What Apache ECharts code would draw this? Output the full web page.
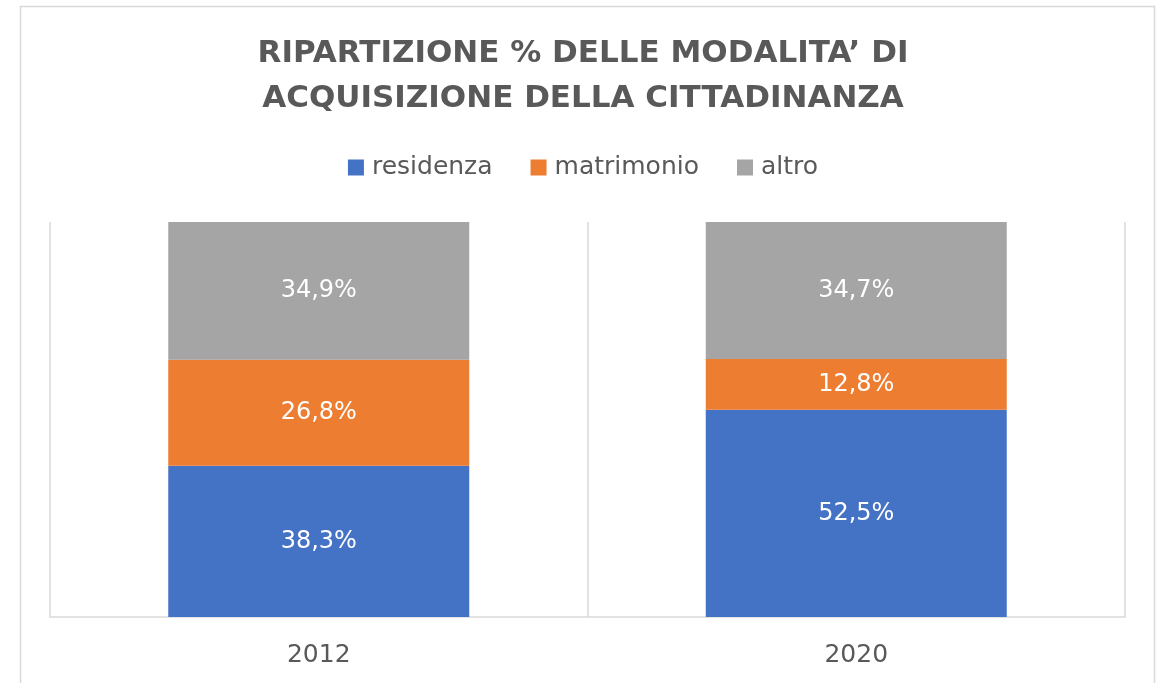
<!DOCTYPE html>
<html><head><meta charset="utf-8">
<script src="https://cdn.jsdelivr.net/npm/echarts@6/dist/echarts.min.js"></script>
<style>html,body{margin:0;padding:0;background:#fff}#c{width:1166px;height:683px}</style>
</head><body><div id="c"></div>
<script>
const titleLines = ["RIPARTIZIONE % DELLE MODALITA’ DI", "ACQUISIZIONE DELLA CITTADINANZA"];
const categories = ["2012", "2020"];
const seriesNames = ["residenza", "matrimonio", "altro"];
const residenza = [38.3, 52.5];
const matrimonio = [26.8, 12.8];
const altro = [34.9, 34.7];
const colors = ["#4472C4", "#ED7D31", "#A5A5A5"];

const chart = echarts.init(document.getElementById('c'), null, {renderer: 'canvas'});
const fmt = p => p.value.toFixed(1).replace('.', ',') + '%';
const mk = (name, data, color) => ({
  name, type: 'bar', stack: 'tot', data, barCategoryGap: '44%',
  itemStyle: {color},
  label: {show: true, position: 'inside', color: '#fff', fontSize: 24, fontFamily: 'DejaVu Sans', formatter: fmt}
});
chart.setOption({
  animation: false,
  graphic: [{type: 'rect', shape: {x: 20.5, y: 6.5, width: 1134, height: 700}, style: {fill: 'none', stroke: '#d9d9d9', lineWidth: 1.5}}],
  title: {text: titleLines.join('\n'), left: 'center', top: 26,
    textStyle: {fontFamily: 'DejaVu Sans', fontWeight: 'bold', fontSize: 31, color: '#595959', lineHeight: 45}},
  legend: {top: 150, left: 'center', itemWidth: 16, itemHeight: 16, itemGap: 38, icon: 'rect',
    textStyle: {fontFamily: 'DejaVu Sans', fontSize: 25, color: '#595959', padding: [0, 0, 0, 3]}, data: seriesNames},
  grid: {left: 50, right: 41, top: 222, bottom: 66},
  xAxis: {type: 'category', data: categories,
    axisLine: {lineStyle: {color: '#d9d9d9', width: 1.5}}, axisTick: {show: false},
    splitLine: {show: true, lineStyle: {color: '#d9d9d9', width: 1.5}},
    axisLabel: {color: '#595959', fontSize: 25, fontFamily: 'DejaVu Sans', margin: 26}},
  yAxis: {type: 'value', min: 0, max: 100, show: false, splitLine: {show: false}},
  series: [mk(seriesNames[0], residenza, colors[0]), mk(seriesNames[1], matrimonio, colors[1]), mk(seriesNames[2], altro, colors[2])]
});
</script></body></html>
